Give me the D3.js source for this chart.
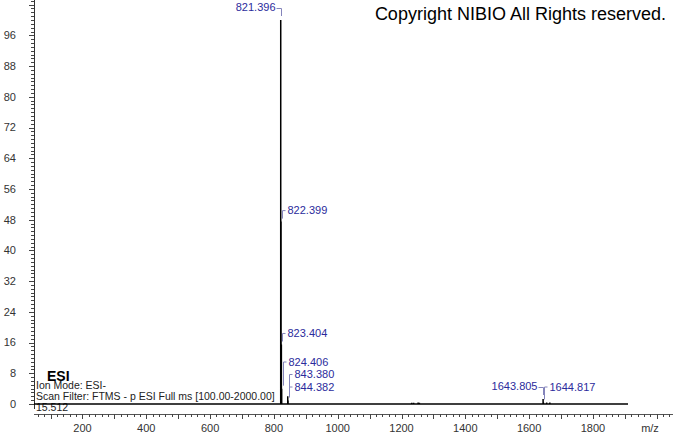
<!DOCTYPE html>
<html>
<head>
<meta charset="utf-8">
<script src="https://cdn.jsdelivr.net/npm/d3@7"></script>
<style>
  body { margin: 0; background: #fff; }
  svg { display: block; font-family: "Liberation Sans", Arial, sans-serif; }
</style>
</head>
<body>
<div id="chart"></div>
<script>
  // peak list (m/z, relative abundance %)
  var peakMz        = [821.396, 822.399, 823.404, 824.406, 843.380, 844.382, 1643.805, 1644.817];
  var peakIntensity = [100, 47.5, 15.5, 4.0, 2.0, 0.9, 1.3, 0.4];

  // tiny unlabelled bumps
  var minorMz        = [1232, 1238, 1252, 1256, 1655, 1665];
  var minorIntensity = [0.3, 0.3, 0.4, 0.3, 0.4, 0.4];

  // m/z span covered by the drawn trace
  var traceRange = [48, 1910];

  var yTickValues = [0, 8, 16, 24, 32, 40, 48, 56, 64, 72, 80, 88, 96];
  var xTickValues = [200, 400, 600, 800, 1000, 1200, 1400, 1600, 1800];

  var infoTitle = "ESI";
  var infoLines = ["Ion Mode: ESI-", "Scan Filter: FTMS - p ESI Full ms [100.00-2000.00]", "15.512"];
  var copyright = "Copyright NIBIO All Rights reserved.";

  var width = 673, height = 433;

  var svg = d3.select("#chart").append("svg")
      .attr("width", width)
      .attr("height", height);

  var x = d3.scaleLinear().domain([48, 2051]).range([34, 673]);
  var y = d3.scaleLinear().domain([0, 100]).range([404, 20]);

  // copyright line
  svg.append("text")
      .attr("x", 666)
      .attr("y", 20)
      .attr("text-anchor", "end")
      .style("font-size", "18px")
      .style("fill", "#000")
      .text(copyright);

  // y axis: line, minor ticks every 1, major every 8
  var yAxisG = svg.append("g");
  yAxisG.append("line")
      .attr("x1", 34.5).attr("x2", 34.5)
      .attr("y1", 0).attr("y2", 409)
      .attr("stroke", "#333");
  yAxisG.selectAll(".yminor")
      .data(d3.range(0, 106, 1))
      .enter().append("line")
        .attr("x1", function(d) { return d % 8 === 0 ? 29 : 31; })
        .attr("x2", 34)
        .attr("y1", function(d) { return Math.round(y(d)) + 0.5; })
        .attr("y2", function(d) { return Math.round(y(d)) + 0.5; })
        .attr("stroke", "#444");
  yAxisG.selectAll(".ylab")
      .data(yTickValues)
      .enter().append("text")
        .attr("x", 16)
        .attr("y", function(d) { return y(d); })
        .attr("dy", "0.35em")
        .attr("text-anchor", "end")
        .style("font-size", "11px")
        .style("fill", "#333")
        .text(function(d) { return d; });

  // x axis: line along y=415, minor ticks every 20, major every 100
  var xAxisG = svg.append("g");
  xAxisG.append("line")
      .attr("x1", 34).attr("x2", 673)
      .attr("y1", 414.5).attr("y2", 414.5)
      .attr("stroke", "#555");
  xAxisG.selectAll(".xtick")
      .data(d3.range(60, 2051, 20))
      .enter().append("line")
        .attr("x1", function(d) { return Math.round(x(d)) + 0.5; })
        .attr("x2", function(d) { return Math.round(x(d)) + 0.5; })
        .attr("y1", 414)
        .attr("y2", function(d) { return d % 100 === 0 ? 419 : 417; })
        .attr("stroke", "#444");
  xAxisG.selectAll(".xlab")
      .data(xTickValues)
      .enter().append("text")
        .attr("x", function(d) { return x(d); })
        .attr("y", 428)
        .attr("dy", "0.35em")
        .attr("text-anchor", "middle")
        .style("font-size", "11px")
        .style("fill", "#333")
        .text(function(d) { return d; });
  xAxisG.append("text")
      .attr("x", 650)
      .attr("y", 428)
      .attr("dy", "0.35em")
      .attr("text-anchor", "middle")
      .style("font-size", "11px")
      .style("fill", "#333")
      .text("m/z");

  // scan info block, lower left (title overlaps the first line, as in the original)
  svg.append("text")
      .attr("x", 47)
      .attr("y", 381)
      .style("font-size", "14px")
      .style("font-weight", "bold")
      .style("fill", "#000")
      .text(infoTitle);
  svg.selectAll(".info")
      .data(infoLines)
      .enter().append("text")
        .attr("x", 36)
        .attr("y", function(d, i) { return 385 + i * 11; })
        .attr("dy", "0.35em")
        .style("font-size", "10.5px")
        .style("fill", "#222")
        .text(function(d) { return d; });

  // build profile trace from the peak lists
  var pts = [[traceRange[0], 0]];
  var allMz = peakMz.concat(minorMz);
  var allInt = peakIntensity.concat(minorIntensity);
  d3.range(allMz.length)
    .sort(function(a, b) { return allMz[a] - allMz[b]; })
    .forEach(function(i) {
      pts.push([allMz[i] - 0.05, 0], [allMz[i], allInt[i]], [allMz[i] + 0.05, 0]);
    });
  pts.push([traceRange[1], 0]);

  var line = d3.line()
      .x(function(d) { return x(d[0]); })
      .y(function(d) { return y(d[1]); });

  svg.append("path")
      .datum(pts)
      .attr("d", line)
      .attr("fill", "none")
      .attr("stroke", "#000")
      .attr("stroke-width", 1.5);

  // peak labels: base peak of each cluster on the left, the rest stacked on the right
  var peaks = peakMz.map(function(m, i) { return {mz: m, v: peakIntensity[i]}; });
  var clusters = [];
  peaks.forEach(function(p) {
    var last = clusters[clusters.length - 1];
    if (last && p.mz - last[last.length - 1].mz < 60) last.push(p);
    else clusters.push([p]);
  });

  var labelColor = "#2b2b9c", leaderColor = "#8484bb";
  var lab = svg.append("g").style("font-size", "11px");

  clusters.forEach(function(c) {
    var base = c.reduce(function(a, b) { return b.v > a.v ? b : a; });
    var bx = Math.round(x(base.mz)) + 0.5, by = y(base.v);
    var ly = by - 13;
    lab.append("path")
        .attr("d", "M" + (bx - 5) + "," + (ly + 1.5) + "H" + bx + "V" + (by - 4))
        .attr("fill", "none").attr("stroke", leaderColor);
    lab.append("text")
        .attr("x", bx - 6).attr("y", ly).attr("dy", "0.35em")
        .attr("text-anchor", "end")
        .style("fill", labelColor)
        .text(base.mz.toFixed(3));

    var rest = c.filter(function(p) { return p !== base; })
      .sort(function(a, b) { return b.mz - a.mz; });
    var prev = Infinity;
    rest.forEach(function(p) {
      var px = Math.round(x(p.mz)) + 1.5, py = y(p.v);
      var ty = Math.min(py - 11, prev - 12.5, 387);
      prev = ty;
      lab.append("path")
          .attr("d", "M" + (px + 3) + "," + ty + "H" + px + "V" + Math.max(ty + 5, py - 3))
          .attr("fill", "none").attr("stroke", leaderColor);
      lab.append("text")
          .attr("x", px + 5).attr("y", ty).attr("dy", "0.35em")
          .style("fill", labelColor)
          .text(p.mz.toFixed(3));
    });
  });
</script>
</body>
</html>
